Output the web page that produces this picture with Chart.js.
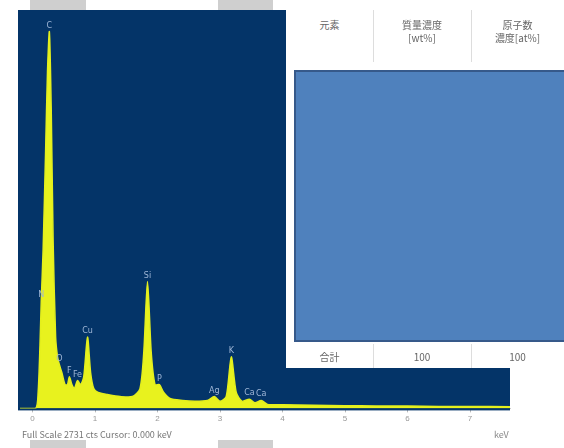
<!DOCTYPE html>
<html><head><meta charset="utf-8">
<script src="https://cdn.jsdelivr.net/npm/chart.js@4/dist/chart.umd.min.js"></script>
<style>
html,body{margin:0;padding:0;background:#fff;width:564px;height:448px;overflow:hidden;font-family:"Noto Sans CJK JP","DejaVu Sans",sans-serif;}
#wrap{position:absolute;left:0;top:0;width:564px;height:448px;}
.tab{position:absolute;background:#cfcfcf;}
#tbl{position:absolute;left:286px;top:10px;width:278px;height:358px;background:#fff;color:#666;font-size:10px;}
.hd{position:absolute;text-align:center;line-height:13px;}
.vl{position:absolute;width:1px;background:#ddd;}
#blue{position:absolute;left:8px;top:60px;width:268px;height:268px;background:#4f81bd;border:2px solid #36598a;}
#cap{position:absolute;left:22px;top:428px;font-size:9px;color:#777;white-space:nowrap;}
#unit{position:absolute;left:494px;top:428px;font-size:9px;color:#888;}
</style></head><body>
<div id="wrap">
<canvas id="c" width="564" height="448"></canvas>
<div class="tab" style="left:30px;top:0;width:56px;height:10px"></div>
<div class="tab" style="left:218px;top:0;width:55px;height:10px"></div>
<div class="tab" style="left:30px;top:440px;width:56px;height:8px"></div>
<div class="tab" style="left:218px;top:440px;width:55px;height:8px"></div>
<div id="tbl">
  <div class="vl" style="left:87px;top:0;height:52px"></div>
  <div class="vl" style="left:185px;top:0;height:52px"></div>
  <div class="vl" style="left:87px;top:334px;height:24px"></div>
  <div class="vl" style="left:185px;top:334px;height:24px"></div>
  <div class="hd" id="h0" style="left:0;top:8px;width:87px"></div>
  <div class="hd" id="h1" style="left:87px;top:8px;width:98px"></div>
  <div class="hd" id="h2" style="left:185px;top:8px;width:93px"></div>
  <div id="blue"></div>
  <div class="hd" id="t0" style="left:0;top:340px;width:87px"></div>
  <div class="hd" id="t1" style="left:87px;top:340px;width:98px"></div>
  <div class="hd" id="t2" style="left:185px;top:340px;width:93px"></div>
</div>
<div id="cap">Full Scale 2731 cts  Cursor: 0.000 keV</div>
<div id="unit">keV</div>
</div>
<script>
// spectrum (energy keV, relative counts)
const energy = [-0.2,0.05,0.09,0.12,0.14,0.17,0.21,0.24,0.27,0.30,0.33,0.37,0.40,0.43,0.47,0.52,0.56,0.59,0.63,0.67,0.72,0.77,0.82,0.88,0.93,0.98,1.05,1.2,1.4,1.6,1.72,1.78,1.84,1.90,1.96,2.03,2.10,2.2,2.4,2.6,2.8,2.91,3.0,3.1,3.18,3.26,3.35,3.47,3.56,3.66,3.76,4.0,4.5,5.0,5.5,6.0,6.5,7.0,7.64];
const counts = [0,0,4,16,27,40,65,85,95,75,42,18,13,11,9,6,6,8,6,5,7,6,8,18,9,5,4,3.5,3,3,5,14,32,14,6,6,4,2.5,2,1.8,2,3,1.8,3,13,4,1.8,2.3,1.4,2,1,0.9,0.8,0.7,0.6,0.6,0.5,0.5,0.4];
// peak labels
const peakEnergy = [0.14,0.27,0.43,0.59,0.72,0.88,1.84,2.03,2.91,3.18,3.47,3.66];
const peakCounts = [27,95,11,8,7,18,32,6,3,13,2.3,2];
const peakLabels = ["N","C","O","F","Fe","Cu","Si","P","Ag","K","Ca","Ca"];
// x ticks
const tickValues = [0,1,2,3,4,5,6,7];
// table text
const headers = ["元素","質量濃度\n[wt%]","原子数\n濃度[at%]"];
const totals = ["合計","100","100"];

headers.forEach((t,i)=>{document.getElementById('h'+i).innerText=t;});
totals.forEach((t,i)=>{document.getElementById('t'+i).innerText=t;});

const bgPlugin={id:'bg',beforeDatasetsDraw(ch){const a=ch.chartArea,c=ch.ctx;c.save();c.fillStyle='#043468';c.fillRect(a.left-2,a.top-2,a.right-a.left+2,a.bottom-a.top+4);c.restore();}};
const lblPlugin={id:'lbl',afterDatasetsDraw(ch){const c=ch.ctx,x=ch.scales.x,y=ch.scales.y;c.save();c.fillStyle='#9fb6d6';c.font='8px "DejaVu Sans"';c.textAlign='center';
peakLabels.forEach((t,i)=>{c.fillText(t,x.getPixelForValue(peakEnergy[i]),y.getPixelForValue(peakCounts[i])-4);});c.restore();}};

new Chart(document.getElementById('c'),{
 type:'line',
 data:{datasets:[{data:energy.map((e,i)=>({x:e,y:counts[i]})),borderColor:'#e4ef1c',backgroundColor:'#e8f21e',fill:'origin',borderWidth:1.5,pointRadius:0,tension:0.25}]},
 options:{responsive:false,animation:false,
  layout:{padding:{left:20,right:54,top:12,bottom:22}},
  plugins:{legend:{display:false},tooltip:{enabled:false}},
  scales:{
   x:{type:'linear',min:-0.2,max:7.64,afterBuildTicks(s){s.ticks=tickValues.map(v=>({value:v}));},
      grid:{drawOnChartArea:false,color:'#bbb',tickLength:4},border:{color:'#ccc'},
      ticks:{color:'#999',font:{size:8},padding:2}},
   y:{display:false,min:0,max:100}
  }},
 plugins:[bgPlugin,lblPlugin]
});
</script>
</body></html>
